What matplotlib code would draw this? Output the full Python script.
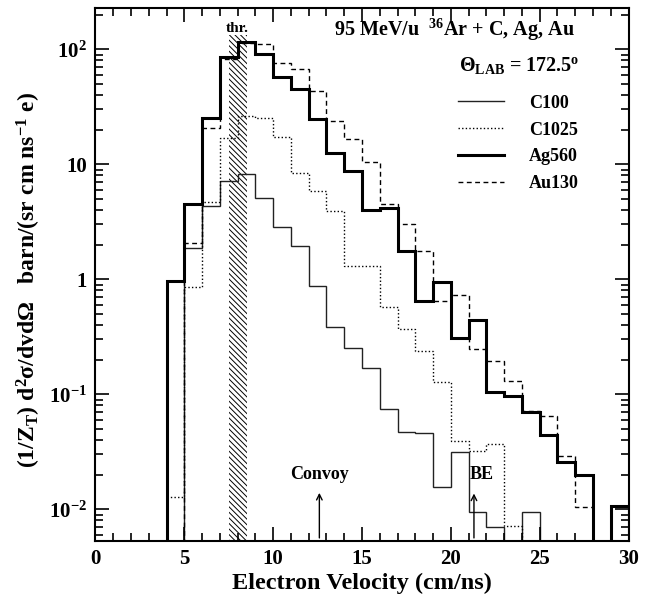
import numpy as np
import matplotlib
matplotlib.use('Agg')
import matplotlib.pyplot as plt
from matplotlib.ticker import MultipleLocator, LogLocator, NullFormatter, FixedLocator, FixedFormatter

# ---------------- data ----------------
bin_edges = np.arange(4, 31, 1)  # electron velocity bins (cm/ns)

c100 = [0, 1.89, 4.34, 7.1, 8.2, 5.1, 2.86, 1.96, 0.875, 0.382, 0.254, 0.170, 0.0745,
        0.0473, 0.046, 0.0156, 0.0317, 0.0095, 0.0070, 0, 0.0095, 0, 0, 0, 0, 0]
c1025 = [0.0128, 0.855, 4.67, 16.9, 26.5, 25.5, 17.4, 8.35, 5.86, 3.93, 1.31, 1.31, 0.57,
         0.368, 0.239, 0.128, 0.0394, 0.0322, 0.0367, 0.0072, 0, 0, 0, 0, 0, 0]
ag560 = [0.97, 4.5, 25.4, 85, 116, 91, 57.6, 45, 24.8, 12.6, 8.7, 4.0, 4.2, 1.77, 0.647,
         0.942, 0.31, 0.44, 0.105, 0.097, 0.0705, 0.044, 0.0256, 0.0198, 0, 0.0107]
au130 = [0, 2.07, 20.7, 82, 114, 112, 76.5, 67.5, 43, 23.8, 16.6, 10.5, 4.55, 3.03, 1.77,
         0.65, 0.726, 0.247, 0.196, 0.131, 0.072, 0.065, 0.0293, 0.0105, 0, 0]

series_labels = ['C100', 'C1025', 'Ag560', 'Au130']
threshold_band = (7.5, 8.5)
threshold_top = 133
convoy_v = 12.6
be_v = 21.3

xticks = [0, 5, 10, 15, 20, 25, 30]
xticklabels = ['0', '5', '10', '15', '20', '25', '30']
yticks = [0.01, 0.1, 1, 10, 100]
yticklabels = [r'$\mathrm{10^{-2}}$', r'$\mathrm{10^{-1}}$', '1', '10', r'$\mathrm{10^{2}}$']

# ---------------- style ----------------
plt.rcParams.update({
    'font.family': ['Liberation Serif', 'DejaVu Serif'],
    'font.weight': 'bold',
    'mathtext.fontset': 'custom',
    'mathtext.rm': 'Liberation Serif:bold',
    'mathtext.it': 'Liberation Serif:italic:bold',
    'mathtext.bf': 'Liberation Serif:bold',
    'hatch.linewidth': 0.7,
    'axes.linewidth': 1.5,
})

YMIN, YMAX = 0.00533, 227
floor = 1e-5

def clean(v):
    v = np.asarray(v, float)
    return np.where(v > 0, v, floor)

fig = plt.figure(figsize=(6.45, 6.01), dpi=100)
ax = fig.add_axes([0.148, 0.1003, 0.8265, 0.8858])

# threshold hatched band
ax.fill_between(list(threshold_band), floor, threshold_top, hatch='\\' * 6,
                facecolor='none', edgecolor='black', linewidth=0)

ax.stairs(clean(c100), bin_edges, baseline=floor, color='#222222', lw=1.0, label=series_labels[0])
ax.stairs(clean(c1025), bin_edges, baseline=floor, color='black', lw=1.0,
          linestyle=(0, (1, 1.6)), label=series_labels[1])
ax.stairs(clean(ag560), bin_edges, baseline=floor, color='black', lw=2.2, label=series_labels[2])
ax.stairs(clean(au130), bin_edges, baseline=floor, color='black', lw=1.0,
          linestyle=(0, (3.5, 2.5)), label=series_labels[3])

ax.set_yscale('log')
ax.set_xlim(0, 30)
ax.set_ylim(YMIN, YMAX)

ax.xaxis.set_major_locator(FixedLocator(xticks))
ax.xaxis.set_major_formatter(FixedFormatter(xticklabels))
ax.xaxis.set_minor_locator(MultipleLocator(1))
ax.yaxis.set_major_locator(FixedLocator(yticks))
ax.yaxis.set_major_formatter(FixedFormatter(yticklabels))
ax.yaxis.set_minor_locator(LogLocator(base=10, subs=np.arange(2, 10)))
ax.yaxis.set_minor_formatter(NullFormatter())

ax.tick_params(which='both', direction='in', top=True, right=True, width=1.2)
ax.tick_params(which='major', length=10, labelsize=15, pad=6)
ax.tick_params(which='minor', length=5.5)

ax.set_xlabel('Electron Velocity (cm/ns)', fontsize=17.5, fontweight='bold', labelpad=3)
ax.set_ylabel(r'$\mathrm{(1/Z_T)\ d^2σ/dvdΩ\ \ \ barn/(sr\ cm\ ns^{-1}\ e)}$', fontsize=17)
ax.yaxis.set_label_coords(-0.098, 0.49)

# annotations
ax.text(0.8995, 0.959, r'95 MeV/u  $\mathrm{^{36}}$Ar + C, Ag, Au', transform=ax.transAxes,
        ha='right', va='center', fontsize=14.5)
ax.text(0.907, 0.893, r'$\Theta_{\mathrm{LAB}}$ = 172.5$\mathrm{^{o}}$', transform=ax.transAxes,
        ha='right', va='center', fontsize=14.5)
ax.text(sum(threshold_band) / 2, 152, 'thr.', ha='center', va='center', fontsize=11)

ax.annotate('', xy=(convoy_v, 0.0147), xytext=(convoy_v, YMIN),
            arrowprops=dict(arrowstyle='->', lw=1.0, color='black'))
ax.text(convoy_v, 0.0199, 'Convoy', ha='center', va='center', fontsize=13)
ax.annotate('', xy=(be_v, 0.0145), xytext=(be_v, YMIN),
            arrowprops=dict(arrowstyle='->', lw=1.0, color='black'))
ax.text(be_v - 0.25, 0.0199, 'BE', ha='left', va='center', fontsize=13)

leg = ax.legend(loc='upper left', bbox_to_anchor=(0.681, 0.838), frameon=False,
                fontsize=13, handlelength=2.5, handletextpad=1.4, labelspacing=0.55,
                borderpad=0, borderaxespad=0)

fig.savefig('out.png', dpi=100)
